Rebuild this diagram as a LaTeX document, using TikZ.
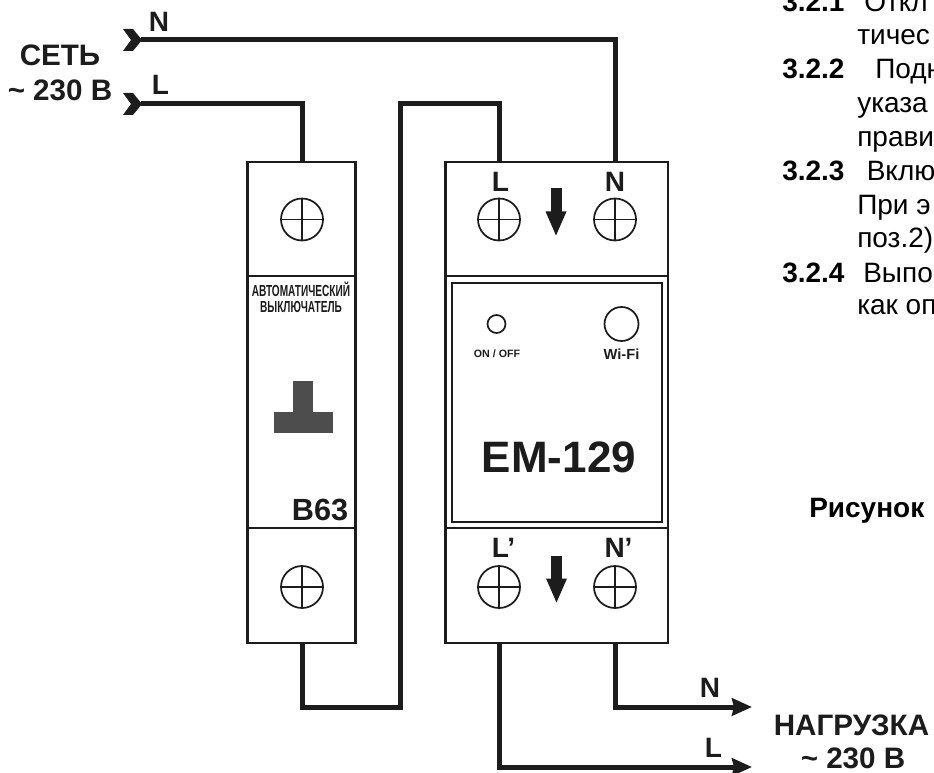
\documentclass[tikz,border=0pt]{standalone}
\usepackage{graphicx}
\usepackage{fontspec}
\setmainfont{Liberation Sans}
\usetikzlibrary{arrows.meta}
\definecolor{ink}{RGB}{28,28,28}
\definecolor{handle}{RGB}{77,77,77}
\tikzset{
	wire/.style={line width=3.75pt,ink},
	outwire/.style={wire,-{Stealth[length=15pt,width=13pt,inset=1.5pt]}},
	casing/.style={line width=1.9pt,ink},
	screw/.style={circle,draw=ink,line width=1.3pt,minimum size=31.5pt,inner sep=0pt},
	lamp/.style={circle,draw=ink,line width=1.3pt,inner sep=0pt},
	lab/.style={inner sep=0pt,ink,font=\bfseries\fontsize{21}{21}\selectfont},
	labbig/.style={inner sep=0pt,ink,font=\bfseries\fontsize{22.2}{22.2}\selectfont},
	body/.style={inner sep=0pt,anchor=base west,black,font=\fontsize{21}{21}\selectfont},
	bodyb/.style={inner sep=0pt,anchor=base west,black,font=\bfseries\fontsize{21}{21}\selectfont},
}
\begin{document}
\begin{tikzpicture}[x=0.75pt,y=-0.75pt]

		\useasboundingbox (0,0) rectangle (934,773);

		\newcommand{\mkscrew}[3]{
			\node[screw] (#1) at (#2,#3) {};
			\draw[ink,line width=1.3pt] (#1.north)--(#1.south);
			\draw[ink,line width=1.3pt] (#1.west)--(#1.east);
		}
		\newcommand{\mkinlet}[3]{
			\coordinate (#1) at (#2,#3);
			\fill[ink] (#2-18,#3-11) -- (#2-8,#3-11) -- (#2+1,#3) -- (#2-8,#3+11) -- (#2-18,#3+11) -- (#2-10,#3) -- cycle;
		}
		\newcommand{\mkdown}[2]{
			\fill[ink] (#1-5.5,#2) rectangle (#1+5.5,#2+24);
			\fill[ink] (#1-10.5,#2+23) -- (#1+10.5,#2+23) -- (#1,#2+47) -- cycle;
		}
		\newcommand{\mkitem}[5]{
			\node[bodyb] (#1) at (782,#2) {#3};
			\node[body] (#1txt) at (#4,#2) {#5};
		}

		%корпуса
		\draw[casing] (247.5,162) rectangle (355.5,643);
		\draw[casing] (247.5,276) -- (355.5,276);
		\draw[casing] (247.5,528) -- (355.5,528);
		\draw[casing] (445.5,162) rectangle (668,643);
		\draw[casing] (445.5,276) -- (668,276);
		\draw[casing] (445.5,528) -- (668,528);
		\draw[ink,line width=1.5pt] (451.5,283) rectangle (662,522);

		%клеммы
		\mkscrew{brkin}{302}{219.5}
		\mkscrew{brkout}{302}{587}
		\mkscrew{emL}{499}{219.5}
		\mkscrew{emN}{615}{219.5}
		\mkscrew{emLo}{499}{587}
		\mkscrew{emNo}{615}{587}

		%концы проводов
		\mkinlet{srcN}{141}{40}
		\mkinlet{srcL}{141}{104}
		\coordinate (brkT) at (302,162);
		\coordinate (brkB) at (302,643);
		\coordinate (emLT) at (499,162);
		\coordinate (emNT) at (615,162);
		\coordinate (emLB) at (499,643);
		\coordinate (emNB) at (615,643);
		\coordinate (loadN) at (752,707);
		\coordinate (loadL) at (752,767);
		\coordinate (bendA) at (400,707);
		\coordinate (bendB) at (400,104);

		%провода
		\draw[wire] (srcN) -| (emNT);
		\draw[wire] (srcL) -| (brkT);
		\draw[wire] (brkB) |- (bendA) -- (bendB) -| (emLT);
		\draw[outwire] (emNB) |- (loadN);
		\draw[outwire] (emLB) |- (loadL);

		%стрелки
		\mkdown{556}{188.5}
		\mkdown{556.5}{555.5}

		%автомат
		\fill[handle] (292.5,381) rectangle (313,412);
		\fill[handle] (273.5,411.5) rectangle (333,433);
		\node[inner sep=0pt,ink,font=\bfseries\fontsize{12}{12}\selectfont] (brkname) at (301,289.5) {\scalebox{.63}[1]{АВТОМАТИЧЕСКИЙ}};
		\node[inner sep=0pt,ink,font=\bfseries\fontsize{12}{12}\selectfont] (brktype) at (301,307) {\scalebox{.63}[1]{ВЫКЛЮЧАТЕЛЬ}};
		\node[inner sep=0pt,ink,font=\bfseries\fontsize{23}{23}\selectfont] (brkrate) at (320,510) {B63};

		%реле
		\node[lamp,minimum size=13.5pt] (led) at (496.5,324) {};
		\node[lamp,minimum size=25.5pt] (wifi) at (621.5,324) {};
		\node[inner sep=0pt,ink,font=\bfseries\fontsize{8}{8}\selectfont] (ledtxt) at (497,354) {ON / OFF};
		\node[inner sep=0pt,ink,font=\bfseries\fontsize{11}{11}\selectfont] (wifitxt) at (621.5,354) {Wi-Fi};
		\node[inner sep=0pt,ink,font=\bfseries\fontsize{33}{33}\selectfont] (model) at (559,457) {EM-129};
		\node[lab] (tagL) at (500.5,182) {L};
		\node[lab] (tagN) at (615,182) {N};
		\node[lab] (tagLo) at (503.5,548) {L’};
		\node[lab] (tagNo) at (618.5,548) {N’};

		%подписи
		\node[labbig] (mainstxt) at (60,55) {СЕТЬ};
		\node[labbig] (mainsv) at (60,90) {\textasciitilde\ 230 В};
		\node[lab] (mainsN) at (159,21.5) {N};
		\node[lab] (mainsL) at (160.5,84.5) {L};
		\node[lab] (outN) at (710,687.5) {N};
		\node[lab] (outL) at (713.5,748) {L};
		\node[labbig] (loadtxt) at (851.5,725) {НАГРУЗКА};
		\node[labbig] (loadv) at (853,758) {\textasciitilde\ 230 В};

		%текст справа
		\mkitem{itemA}{12}{3.2.1}{864}{Откл}
		\node[body] (lineA) at (857,45) {тичес};
		\mkitem{itemB}{79}{3.2.2}{875}{Подн}
		\node[body] (lineB) at (857,113) {указа};
		\node[body] (lineC) at (857,147) {прави};
		\mkitem{itemC}{181}{3.2.3}{866.5}{Вклю}
		\node[body] (lineD) at (857,214.5) {При э};
		\node[body] (lineE) at (857,248) {поз.2)};
		\mkitem{itemD}{282}{3.2.4}{863}{Выпо}
		\node[body] (lineF) at (857,315) {как оп};
		\node[bodyb] (figcap) at (809,517.5) {Рисунок};

\end{tikzpicture}
\end{document}
